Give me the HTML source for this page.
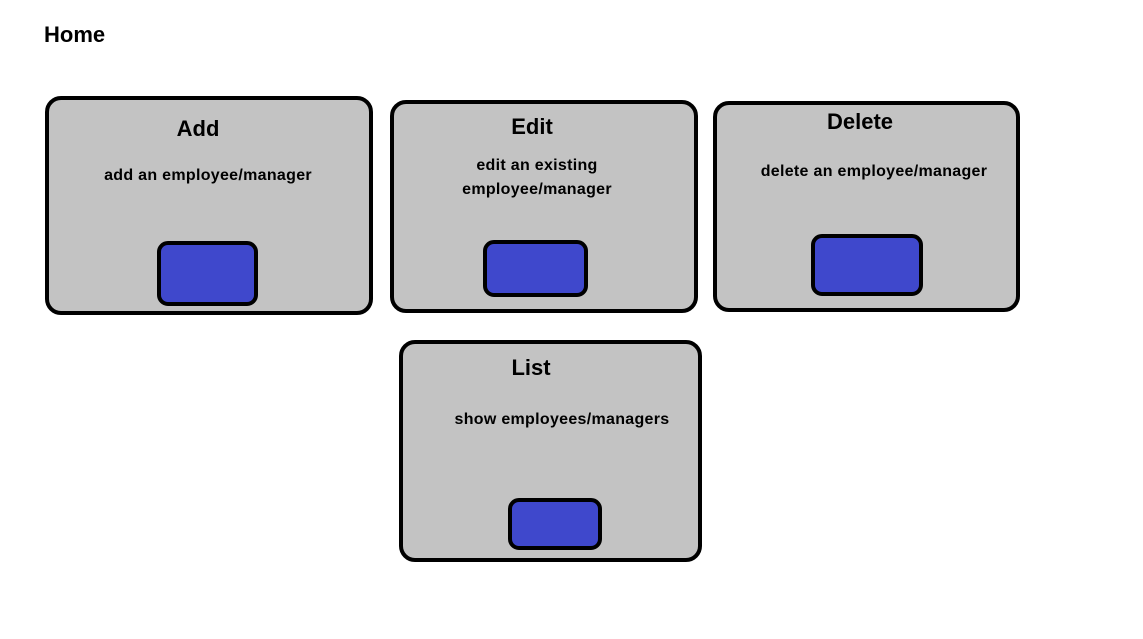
<!DOCTYPE html>
<html><head><style>
body{margin:0;width:1143px;height:639px;background:#fff;position:relative;overflow:hidden;font-family:"Liberation Sans",sans-serif;}
.b{position:absolute;box-sizing:border-box;border:4px solid #000;background:#c3c3c3;border-radius:16px;}
.btn{position:absolute;box-sizing:border-box;border:4px solid #000;background:#3f48cc;border-radius:11px;}
.t{position:absolute;font-weight:bold;font-size:22px;white-space:nowrap;transform:translateX(-50%);color:#000;}
.d{position:absolute;font-size:16px;font-weight:bold;letter-spacing:0.3px;white-space:nowrap;transform:translateX(-50%);text-align:center;line-height:24px;color:#000;}
</style></head><body>
<div style="position:absolute;left:44px;top:22px;font-weight:bold;font-size:22px;">Home</div>

<div class="b" style="left:45px;top:96px;width:328px;height:219px;"></div>
<div class="btn" style="left:157px;top:241px;width:101px;height:65px;"></div>
<div class="t" style="left:198px;top:116px;">Add</div>
<div class="d" style="left:208px;top:164px;">add an employee/manager</div>

<div class="b" style="left:390px;top:100px;width:308px;height:213px;"></div>
<div class="btn" style="left:483px;top:240px;width:105px;height:57px;"></div>
<div class="t" style="left:532px;top:114px;">Edit</div>
<div class="d" style="left:537px;top:154px;">edit an existing<br>employee/manager</div>

<div class="b" style="left:713px;top:101px;width:307px;height:211px;"></div>
<div class="btn" style="left:811px;top:234px;width:112px;height:62px;"></div>
<div class="t" style="left:860px;top:109px;">Delete</div>
<div class="d" style="left:874px;top:160px;">delete an employee/manager</div>

<div class="b" style="left:399px;top:340px;width:303px;height:222px;"></div>
<div class="btn" style="left:508px;top:498px;width:94px;height:52px;"></div>
<div class="t" style="left:531px;top:355px;">List</div>
<div class="d" style="left:562px;top:408px;">show employees/managers</div>
</body></html>
